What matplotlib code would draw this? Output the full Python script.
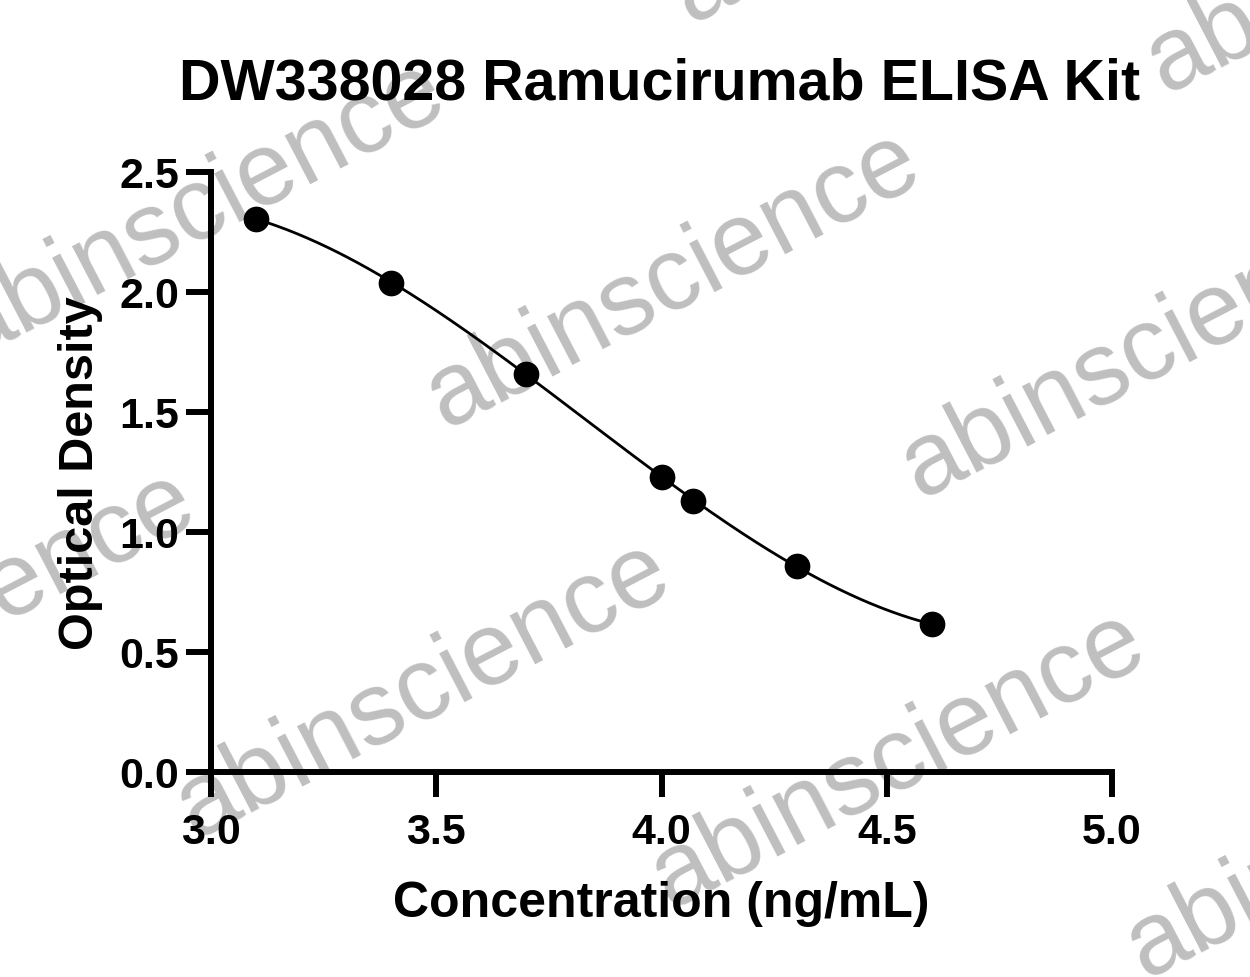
import numpy as np
import matplotlib
matplotlib.use("Agg")
import matplotlib.pyplot as plt

plt.rcParams["font.family"] = ["Liberation Sans", "DejaVu Sans"]

# standard curve: log concentration vs OD
conc = [3.10, 3.40, 3.70, 4.00, 4.07, 4.30, 4.60]
od = [2.305, 2.038, 1.660, 1.231, 1.131, 0.857, 0.616]

x_ticks = [3.0, 3.5, 4.0, 4.5, 5.0]
y_ticks = [0.0, 0.5, 1.0, 1.5, 2.0, 2.5]

TITLE = "DW338028 Ramucirumab ELISA Kit"
XLABEL = "Concentration (ng/mL)"
YLABEL = "Optical Density"
WATERMARK = "abinscience"

W, H = 1250, 978
fig = plt.figure(figsize=(W / 100, H / 100), dpi=100)
ax = fig.add_axes([211 / W, 1 - 773 / H, (1112 - 211) / W, (773 - 173) / H])
ax.set_facecolor("none")

# smooth fitted curve through the standards
coef = np.polyfit(conc, od, 3)
xs = np.linspace(min(conc), max(conc), 200)
ax.plot(xs, np.polyval(coef, xs), color="black", lw=2.0, zorder=3)
ax.plot(conc, od, "o", color="black", ms=17.5, zorder=4, clip_on=False)

ax.set_xlim(3.0, 5.0)
ax.set_ylim(0.0, 2.5)
ax.set_xticks(x_ticks)
ax.set_yticks(y_ticks)
ax.set_xticklabels([f"{v:.1f}" for v in x_ticks])
ax.set_yticklabels([f"{v:.1f}" for v in y_ticks])

for side in ["top", "right"]:
    ax.spines[side].set_visible(False)
for side in ["left", "bottom"]:
    ax.spines[side].set_linewidth(4.3)
    ax.spines[side].set_capstyle("projecting")

ax.tick_params(axis="both", direction="out", length=18, width=4.3,
               labelsize=31)
ax.tick_params(axis="x", pad=11)
ax.tick_params(axis="y", pad=5)
for lab in ax.get_xticklabels() + ax.get_yticklabels():
    lab.set_fontweight("bold")

ax.set_xlabel(XLABEL, fontsize=36, fontweight="bold", labelpad=20)
ax.set_ylabel(YLABEL, fontsize=35, fontweight="bold", labelpad=12)
fig.text(660 / W, 1 - 100 / H, TITLE, fontsize=41.3, fontweight="bold",
         ha="center", va="baseline")

# watermark grid (start of each word in pixel coords)
starts = [(-30, 358), (445, 428), (920, 498),
          (-280, 768), (195, 838), (670, 908), (1145, 978),
          (690, 23), (1165, 93), (215, -47)]
for sx, sy in starts:
    fig.text(sx / W, 1 - sy / H, WATERMARK, fontsize=74, color="#bfbfbf",
             rotation=27.5, rotation_mode="anchor", ha="left",
             va="baseline", zorder=-1)

fig.savefig("out.png", dpi=100)
